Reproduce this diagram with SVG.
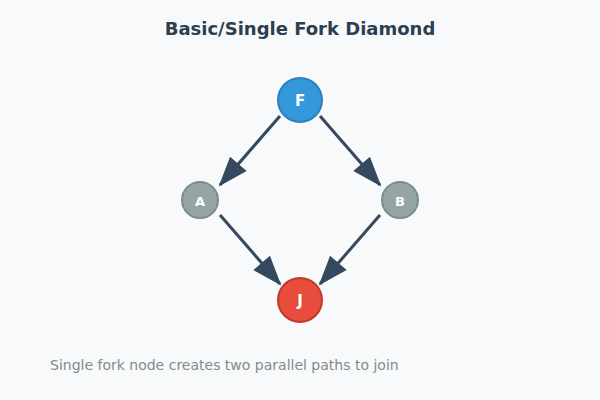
<svg xmlns="http://www.w3.org/2000/svg" width="600" height="400" viewBox="0 0 600 400">
<style>
.title{font-family:"DejaVu Sans",sans-serif;font-size:18px;font-weight:bold;fill:#2c3e50;text-anchor:middle}
.foot{font-family:"DejaVu Sans",sans-serif;font-size:14px;fill:#7f8c8d}
.lbl{font-family:"DejaVu Sans",sans-serif;font-weight:bold;fill:#ffffff;text-anchor:middle;dominant-baseline:central}
.edge{stroke:#34495e;stroke-width:3;fill:none;marker-end:url(#ah)}
</style>
<defs>
<marker id="ah" markerUnits="userSpaceOnUse" markerWidth="30" markerHeight="22" refX="28" refY="11" orient="auto" overflow="visible">
<path d="M0,0 L30,11 L0,22 z" fill="#34495e"/>
</marker>
</defs>
<rect width="600" height="400" fill="#f8f9fa"/>
<text class="title" x="300" y="35">Basic/Single Fork Diamond</text>
<g id="connectors">
<line class="edge" x1="280" y1="116" x2="220" y2="185"/>
<line class="edge" x1="320" y1="116" x2="380" y2="185"/>
<line class="edge" x1="220" y1="215" x2="280" y2="284"/>
<line class="edge" x1="380" y1="215" x2="320" y2="284"/>
</g>
<g id="node-F"><circle cx="300" cy="100" r="22" fill="#3498db" stroke="#2980b9" stroke-width="2"/><text class="lbl" x="300" y="101" font-size="15">F</text></g>
<g id="node-A"><circle cx="200" cy="200" r="18" fill="#95a5a6" stroke="#7f8c8d" stroke-width="2"/><text class="lbl" x="200" y="201" font-size="13">A</text></g>
<g id="node-B"><circle cx="400" cy="200" r="18" fill="#95a5a6" stroke="#7f8c8d" stroke-width="2"/><text class="lbl" x="400" y="201" font-size="13">B</text></g>
<g id="node-J"><circle cx="300" cy="300" r="22" fill="#e74c3c" stroke="#c0392b" stroke-width="2"/><text class="lbl" x="300" y="301" font-size="15">J</text></g>
<text class="foot" x="50" y="370">Single fork node creates two parallel paths to join</text>
</svg>
